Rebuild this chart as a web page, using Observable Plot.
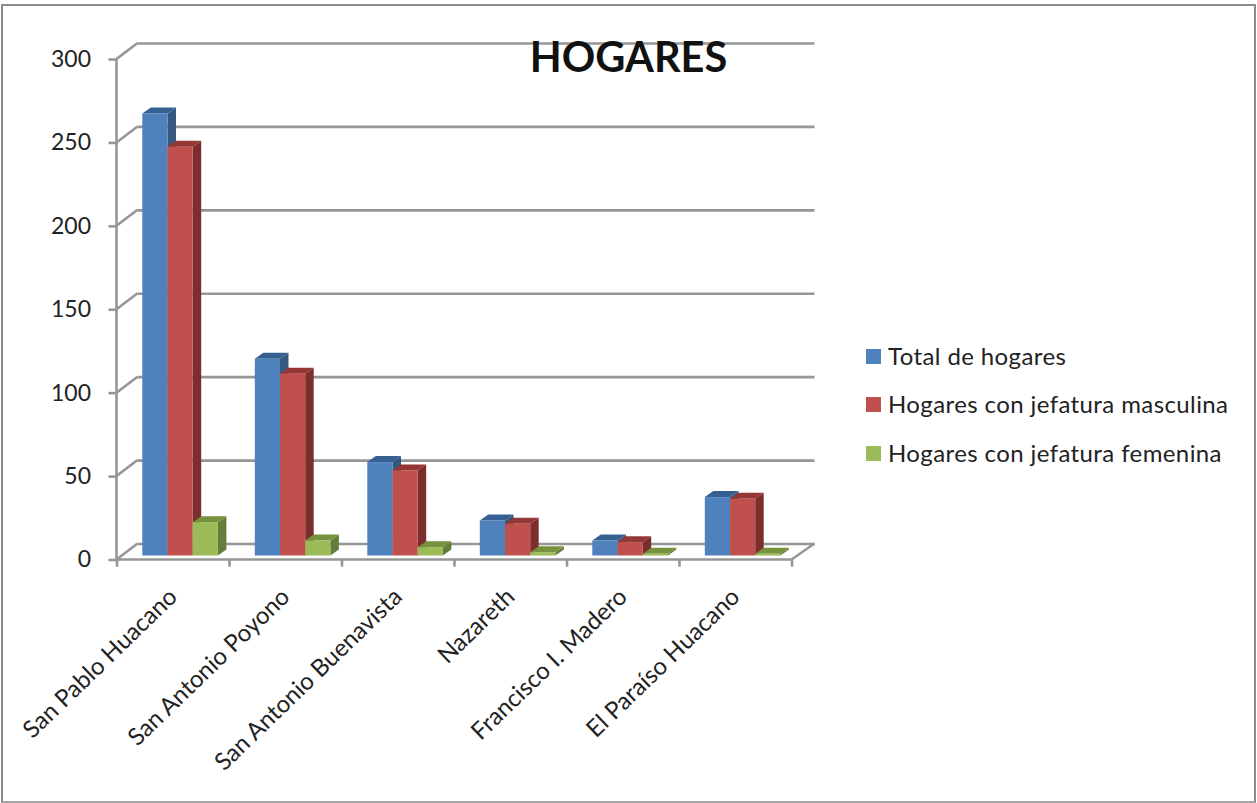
<!DOCTYPE html>
<html>
<head>
<meta charset="utf-8">
<script src="https://cdn.jsdelivr.net/npm/d3@7"></script>
<script src="https://cdn.jsdelivr.net/npm/@observablehq/plot@0.6"></script>
<style>
  html, body { margin: 0; padding: 0; background: #fff; }
  #frame { position: relative; width: 1257px; height: 803px; overflow: hidden; font-family: Lato, sans-serif; color: #222; }
  #frame svg { position: absolute; left: 0; top: 0; }
  #border { position: absolute; left: 1px; top: 4px; right: 1px; bottom: 0; border: 2px solid #8c8c8c; border-bottom-color: #a6a6a6; box-sizing: border-box; pointer-events: none; }
  .leg { position: absolute; left: 866px; height: 15px; white-space: nowrap; }
  .leg i { position: absolute; left: 0; top: 0; width: 15px; height: 15px; }
  .leg span { position: absolute; left: 22px; top: -8px; font-size: 24px; line-height: 29px; letter-spacing: 0.4px; }
</style>
</head>
<body>
<div id="frame"><div id="border"></div></div>
<script>
const categories = ["San Pablo Huacano", "San Antonio Poyono", "San Antonio Buenavista", "Nazareth", "Francisco I. Madero", "El Paraíso Huacano"];
const seriesNames = ["Total de hogares", "Hogares con jefatura masculina", "Hogares con jefatura femenina"];
const totalHogares = [265, 118, 56, 21, 9, 35];
const jefaturaMasculina = [245, 109, 51, 19, 8, 34];
const jefaturaFemenina = [20, 9, 5, 2, 1, 1];
const yTicks = [0, 50, 100, 150, 200, 250, 300];
const seriesValues = [totalHogares, jefaturaMasculina, jefaturaFemenina];
const frontColors = ["#4f81bd", "#c0504d", "#9bbb59"];
const topColors = ["#376092", "#953735", "#76923c"];
const sideColors = ["#35587f", "#7b2e2c", "#657d3b"];

const legendTops = [348.5, 397, 446];

const M = {left: 116.5, right: 465.5, top: 59, bottom: 243.5};
const bandW = (1257 - M.left - M.right) / categories.length;
const barW = 25.2, barStart = 25.8;
const depthX = 8.5, depthY = 6;
const wallX = 21, wallY = 16;
const lineColor = "#969696", lineWidth = 2.6;

function bar3d(s) {
  return function(index, scales, values, dimensions, context, next) {
    const g = next(index, scales, values, dimensions, context);
    const sel = d3.select(g);
    const rects = sel.selectAll("rect").nodes();
    rects.forEach(r => {
      const x = +r.getAttribute("x"), y = +r.getAttribute("y"), w = +r.getAttribute("width"), h = +r.getAttribute("height");
      const parent = r.parentNode;
      const side = document.createElementNS("http://www.w3.org/2000/svg", "polygon");
      side.setAttribute("points", `${x+w},${y} ${x+w+depthX},${y-depthY} ${x+w+depthX},${y+h-depthY} ${x+w},${y+h}`);
      side.setAttribute("fill", sideColors[s]);
      const top = document.createElementNS("http://www.w3.org/2000/svg", "polygon");
      top.setAttribute("points", `${x},${y} ${x+depthX},${y-depthY} ${x+w+depthX},${y-depthY} ${x+w},${y}`);
      top.setAttribute("fill", topColors[s]);
      parent.insertBefore(side, r);
      parent.insertBefore(top, r);
    });
    return g;
  };
}

// Connectors between the front axis and the back wall, and the axis lines, from the y scale.
function walls(index, scales, values, dimensions) {
  const {marginLeft: l, width, marginRight} = dimensions;
  const r = width - marginRight;
  const y = scales.y;
  const svg = d3.create("svg:g").attr("fill", "none").attr("stroke", lineColor).attr("stroke-width", lineWidth);
  yTicks.forEach(t => svg.append("line").attr("x1", l).attr("y1", y(t)).attr("x2", l + wallX).attr("y2", y(t) - wallY));
  svg.append("line").attr("x1", l).attr("y1", y(300)).attr("x2", l).attr("y2", y(0));
  svg.append("line").attr("x1", l).attr("y1", y(0)).attr("x2", r).attr("y2", y(0));
  svg.append("line").attr("x1", r).attr("y1", y(0)).attr("x2", r + wallX + 2).attr("y2", y(0) - wallY);
  return svg.node();
}

const barMarks = seriesValues.map((vals, s) => Plot.barY(categories, {
  x: d => d,
  y: (d, i) => vals[i],
  fill: frontColors[s],
  insetLeft: barStart + s * barW,
  insetRight: bandW - barStart - (s + 1) * barW,
  dy: -4,
  render: bar3d(s)
}));

const chart = Plot.plot({
  width: 1257,
  height: 803,
  marginLeft: M.left,
  marginRight: M.right,
  marginTop: M.top,
  marginBottom: M.bottom,
  style: {fontFamily: "Lato, sans-serif", background: "transparent", overflow: "visible"},
  x: {domain: categories, padding: 0, round: false, label: null},
  y: {domain: [0, 300], label: null},
  marks: [
    Plot.ruleY(yTicks, {y: d => d, dx: wallX, dy: -wallY, stroke: lineColor, strokeWidth: lineWidth, insetRight: -2}),
    walls,
    ...barMarks,
    Plot.ruleX(categories, {x: d => d, y1: 0, y2: -4.3, dx: -bandW / 2, stroke: lineColor, strokeWidth: lineWidth}),
    Plot.ruleX(categories.slice(-1), {x: d => d, y1: 0, y2: -4.3, dx: bandW / 2, stroke: lineColor, strokeWidth: lineWidth}),
    Plot.axisY(yTicks, {tickSize: 8, tickPadding: 18, stroke: lineColor, strokeWidth: lineWidth, fill: "#222", fontSize: 23, label: null}),
    Plot.axisX({tickSize: 0, tickRotate: -44, tickPadding: 33, fill: "#222", fontSize: 24, label: null}),
    Plot.text(["HOGARES"], {frameAnchor: "top", lineAnchor: "middle", dx: 628 - (M.left + 1257 - M.right) / 2, dy: -1, fontSize: 41.5, fontWeight: "bold", fill: "#111"})
  ]
});

const frame = document.getElementById("frame");
frame.insertBefore(chart, frame.firstChild);

seriesNames.forEach((name, s) => {
  const row = document.createElement("div");
  row.className = "leg";
  row.style.top = legendTops[s] + "px";
  const sw = document.createElement("i");
  sw.style.background = frontColors[s];
  const lab = document.createElement("span");
  lab.textContent = name;
  row.append(sw, lab);
  frame.append(row);
});
</script>
</body>
</html>
